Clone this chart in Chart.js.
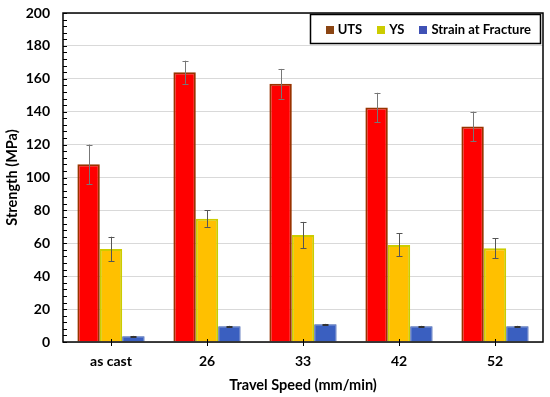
<!DOCTYPE html>
<html>
<head>
<meta charset="utf-8">
<script src="https://cdn.jsdelivr.net/npm/chart.js@4/dist/chart.umd.min.js"></script>
<style>
  html, body { margin: 0; padding: 0; background: #fff; }
  #wrap { width: 550px; height: 397px; }
</style>
</head>
<body>
<div id="wrap"><canvas id="c" width="550" height="397"></canvas></div>
<script>
const categories = ['as cast', '26', '33', '42', '52'];
const utsValues = [108, 164, 157, 142.5, 131];
const utsErrors = [12, 7, 9, 9, 9];
const ysValues = [56.5, 75, 65, 59, 57];
const ysErrors = [7.5, 5, 8, 7, 6];
const strainValues = [3.5, 9.6, 10.8, 9.6, 9.6];
const strainErrors = [0.2, 0.2, 0.2, 0.2, 0.2];
const seriesNames = ['UTS', 'YS', 'Strain at Fracture'];
const yTickMax = 200;
const yTickStep = 20;
const yMinorStep = 4;

const FONT = 'Lato, "Open Sans", sans-serif';
const legendColors = ['#8B4513', '#CCCC00', '#3F51B5'];

const errorBarPlugin = {
  id: 'errorBars',
  afterDatasetsDraw(chart) {
    const ctx = chart.ctx;
    const y = chart.scales.y;
    chart.data.datasets.forEach((ds, di) => {
      const meta = chart.getDatasetMeta(di);
      if (!ds.errors) return;
      ctx.save();
      ctx.strokeStyle = ds.errorColor || '#666';
      ctx.lineWidth = 1;
      meta.data.forEach((bar, i) => {
        const v = ds.data[i], e = ds.errors[i];
        const yTop = y.getPixelForValue(v + e);
        const yBot = y.getPixelForValue(v - e);
        const x = Math.round(bar.x) + 0.5;
        ctx.beginPath();
        ctx.moveTo(x, yTop); ctx.lineTo(x, yBot);
        ctx.moveTo(x - 3, Math.round(yTop) + 0.5); ctx.lineTo(x + 3, Math.round(yTop) + 0.5);
        ctx.moveTo(x - 3, Math.round(yBot) + 0.5); ctx.lineTo(x + 3, Math.round(yBot) + 0.5);
        ctx.stroke();
      });
      ctx.restore();
    });
  }
};

const frameAndTicksPlugin = {
  id: 'frameTicks',
  afterDraw(chart) {
    const ctx = chart.ctx;
    const a = chart.chartArea;
    const y = chart.scales.y, x = chart.scales.x;
    ctx.save();
    ctx.strokeStyle = '#000';
    ctx.lineWidth = 1;
    ctx.beginPath();
    for (let v = 0; v <= yTickMax; v += yMinorStep) {
      const py = Math.round(y.getPixelForValue(v)) + 0.5;
      ctx.moveTo(a.left, py); ctx.lineTo(a.left + 4, py);
    }
    categories.forEach((c, i) => {
      const px = Math.round(x.getPixelForValue(i)) + 0.5;
      ctx.moveTo(px, a.bottom - 3); ctx.lineTo(px, a.bottom + 4);
    });
    ctx.stroke();
    ctx.lineWidth = 1.5;
    ctx.strokeRect(a.left, a.top, a.right - a.left, a.bottom - a.top);

    // legend inside the plot, top right
    ctx.font = 'bold 13px ' + FONT;
    ctx.textBaseline = 'middle';
    const box = 8, gapBoxText = 4, gapItems = 15, padL = 16, padR = 9;
    const widths = seriesNames.map(n => ctx.measureText(n).width);
    let total = padL + padR;
    widths.forEach((w, i) => { total += box + gapBoxText + w + (i < widths.length - 1 ? gapItems : 0); });
    const right = a.right - 3, top = a.top + 1, h = 29;
    const left = right - total;
    ctx.fillStyle = '#fff';
    ctx.fillRect(left, top, total, h);
    ctx.strokeRect(Math.round(left) + 0.5, top + 0.5, Math.round(total), h);
    let cx = left + padL;
    const cy = top + h / 2 + 1;
    seriesNames.forEach((n, i) => {
      ctx.fillStyle = legendColors[i];
      ctx.fillRect(Math.round(cx), Math.round(cy - box / 2), box, box);
      cx += box + gapBoxText;
      ctx.fillStyle = '#000';
      ctx.textAlign = 'left';
      ctx.fillText(n, cx, cy);
      cx += widths[i] + gapItems;
    });
    ctx.restore();
  }
};

new Chart(document.getElementById('c'), {
  type: 'bar',
  data: {
    labels: categories,
    datasets: [
      { label: seriesNames[0], data: utsValues, errors: utsErrors, backgroundColor: '#FF0000', borderColor: '#993300', borderWidth: 2, errorColor: '#777' },
      { label: seriesNames[1], data: ysValues, errors: ysErrors, backgroundColor: '#FFC000', borderColor: '#CCCC00', borderWidth: 2, errorColor: '#555' },
      { label: seriesNames[2], data: strainValues, errors: strainErrors, backgroundColor: '#3A5FC0', borderColor: '#3355AA', borderWidth: 1, errorColor: '#333' }
    ]
  },
  options: {
    responsive: false,
    devicePixelRatio: 1,
    animation: false,
    layout: { padding: { top: 13, right: 7, left: 0, bottom: 0 } },
    datasets: { bar: { categoryPercentage: 0.7, barPercentage: 1.0 } },
    scales: {
      x: {
        grid: { display: false, drawTicks: false },
        border: { display: false },
        ticks: { color: '#000', font: { family: FONT, size: 14, weight: 'bold' }, padding: 11 },
        title: { display: true, text: 'Travel Speed (mm/min)', color: '#000', font: { family: FONT, size: 14.5, weight: 'bold' }, padding: { top: 4, bottom: 3 } },
        afterFit(scale) { scale.height = 55; scale.paddingLeft = 0; scale.paddingRight = 0; }
      },
      y: {
        min: 0, max: yTickMax,
        grid: { color: '#d9d9d9', drawTicks: false },
        border: { display: false },
        ticks: { stepSize: yTickStep, color: '#000', font: { family: FONT, size: 14, weight: 'bold' }, padding: 13 },
        title: { display: true, text: 'Strength (MPa)', color: '#000', font: { family: FONT, size: 14.5, weight: 'bold' }, padding: { top: 4, bottom: 4 } },
        afterFit(scale) { scale.width = 63; scale.paddingTop = 0; scale.paddingBottom = 0; }
      }
    },
    plugins: {
      legend: { display: false },
      tooltip: { enabled: false }
    }
  },
  plugins: [errorBarPlugin, frameAndTicksPlugin]
});
</script>
</body>
</html>
